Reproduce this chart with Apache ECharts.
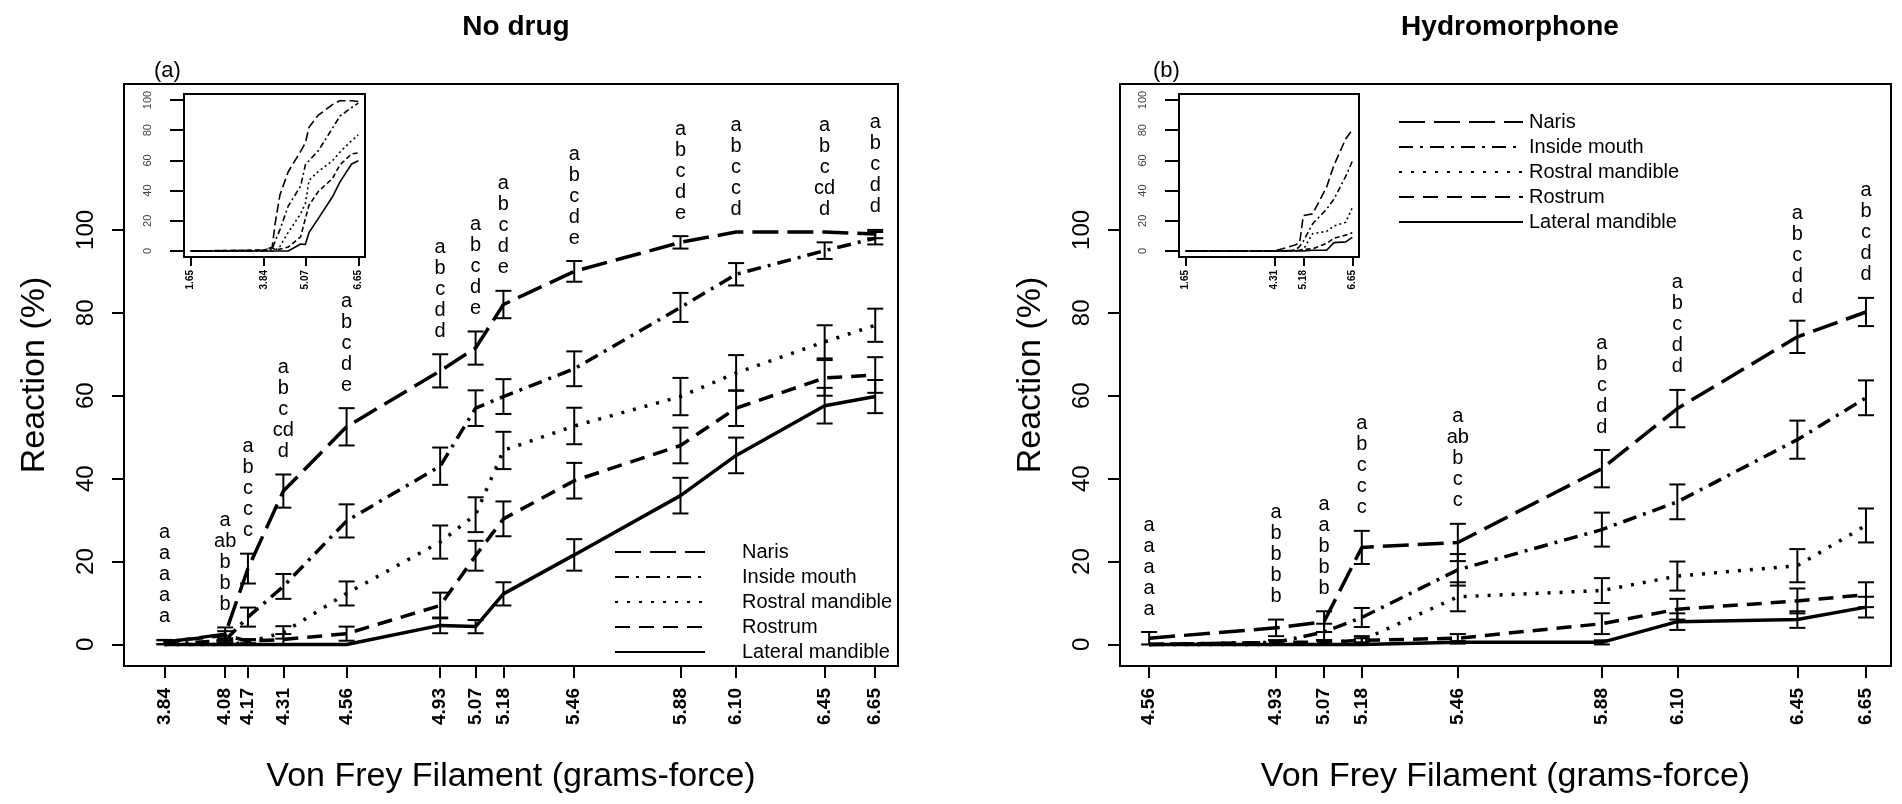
<!DOCTYPE html>
<html>
<head>
<meta charset="utf-8">
<title>Von Frey reaction</title>
<script src="https://cdn.jsdelivr.net/npm/echarts@6.0.0/dist/echarts.min.js"></script>
<style>
	html,body{margin:0;padding:0;background:#fff;}
	#chart{width:1902px;height:804px;}
</style>
</head>
<body>
<div id="chart"></div>
<script>
	//filament sizes (grams-force)
	var xNoDrug = [3.84, 4.08, 4.17, 4.31, 4.56, 4.93, 5.07, 5.18, 5.46, 5.88, 6.10, 6.45, 6.65];
	var xHydro = [4.56, 4.93, 5.07, 5.18, 5.46, 5.88, 6.10, 6.45, 6.65];
	var regions = ['Naris', 'Inside mouth', 'Rostral mandible', 'Rostrum', 'Lateral mandible'];

	//(a) no drug, mean reaction %
	var naris1 = [0.5, 2.5, 18.3, 37, 52.5, 66, 71.5, 82, 90, 97, 99.5, 99.5, 99];
	var mouth1 = [0, 1, 6.6, 14, 29.8, 43, 57, 59.8, 66.5, 81.3, 89.3, 95, 98];
	var rostral1 = [0, 0, 0.5, 2.9, 12.3, 24.7, 31.3, 46.8, 52.7, 59.8, 65.5, 73, 77];
	var rostrum1 = [0.6, 2.2, 0.8, 1.2, 2.6, 9.4, 21.4, 30.3, 39.5, 48, 57, 64.3, 65];
	var lateral1 = [0, 0, 0, 0, 0, 4.6, 4.3, 12.2, 21.6, 35.9, 45.6, 57.6, 59.8];
	//error bar half widths
	var narisErr1 = [0.5, 1.6, 3.6, 4, 4.5, 4, 4, 3.3, 2.5, 1.5, 0, 0, 1];
	var mouthErr1 = [0, 0.5, 2.3, 3, 4, 4.5, 4.3, 4.2, 4.2, 3.5, 2.7, 2, 1.5];
	var rostralErr1 = [0, 0, 0.5, 1.5, 2.9, 4, 4.2, 4.5, 4.4, 4.5, 4.3, 4, 4];
	var rostrumErr1 = [0.5, 1, 0.5, 1.3, 1.7, 3.1, 3.6, 4.2, 4.3, 4.3, 4.3, 4.3, 4.3];
	var lateralErr1 = [0, 0, 0, 0, 0, 1.9, 1.6, 2.8, 3.8, 4.3, 4.3, 4.3, 4];
	var letters1 = [
		['a','a','a','a','a'], ['a','ab','b','b','b'], ['a','b','c','c','c'], ['a','b','c','cd','d'],
		['a','b','c','d','e'], ['a','b','c','d','d'], ['a','b','c','d','e'], ['a','b','c','d','e'],
		['a','b','c','d','e'], ['a','b','c','d','e'], ['a','b','c','c','d'], ['a','b','c','cd','d'],
		['a','b','c','d','d']
	];

	//(b) hydromorphone
	var naris2 = [1.5, 4, 5.5, 23.4, 24.6, 42.4, 56.9, 74.2, 80.2];
	var mouth2 = [0, 0.5, 3, 6.5, 18, 27.7, 34.4, 49.4, 59.5];
	var rostral2 = [0, 0, 0.5, 1, 11.5, 13, 16.5, 19, 28.7];
	var rostrum2 = [0, 0.5, 0.5, 1, 1.5, 5, 8.5, 10.5, 12];
	var lateral2 = [0, 0, 0, 0, 0.5, 0.5, 5.5, 6, 9];
	var narisErr2 = [1.5, 2, 2.5, 4, 4.5, 4.5, 4.5, 3.9, 3.4];
	var mouthErr2 = [0, 0.5, 2, 2.3, 3.8, 4.1, 4.2, 4.6, 4.2];
	var rostralErr2 = [0, 0, 0.5, 1, 3.5, 3, 3.5, 4, 4.1];
	var rostrumErr2 = [0, 0.5, 0.5, 0.5, 1, 2.5, 2.5, 3, 3];
	var lateralErr2 = [0, 0, 0, 0, 0.3, 0.5, 2, 2, 2.5];
	var letters2 = [
		['a','a','a','a','a'], ['a','b','b','b','b'], ['a','a','b','b','b'], ['a','b','c','c','c'],
		['a','ab','b','c','c'], ['a','b','c','d','d'], ['a','b','c','d','d'], ['a','b','c','d','d'],
		['a','b','c','d','d']
	];

	//inset: lower filaments, all zero
	var insetLeadX1 = [1.65];
	var insetLeadX2 = [1.65, 4.31];
	var insetTicks1 = [1.65, 3.84, 5.07, 6.65];
	var insetTicks2 = [1.65, 4.31, 5.18, 6.65];
	var yTicks = [0, 20, 40, 60, 80, 100];

	var FONT = '"Liberation Sans", Arial, sans-serif';
	var dashMain = [[26, 9], [14, 7, 3, 7], [3, 9], [15, 9], 'solid'];
	var dashInset = [[9, 4], [6, 3, 2, 3], [2, 3], [5, 3], 'solid'];

	function pairs(xs, ys){
		var d = [];
		for(var i = 0; i < xs.length; i++){
			d.push([xs[i], ys[i]]);
		}
		return d;
	}
	//error bars: [x, low, high]
	function errData(xs, means, errs){
		var d = [];
		for(var r = 0; r < means.length; r++){
			for(var i = 0; i < xs.length; i++){
				if(errs[r][i] >= 0.3){
					d.push([xs[i], means[r][i] - errs[r][i], means[r][i] + errs[r][i]]);
				}
			}
		}
		return d;
	}
	//letter stacks sit over the highest bar
	function letterData(xs, means, errs){
		var d = [];
		for(var i = 0; i < xs.length; i++){
			var top = 0;
			for(var r = 0; r < means.length; r++){
				top = Math.max(top, means[r][i] + errs[r][i]);
			}
			d.push([xs[i], top, i]);
		}
		return d;
	}
	function errRender(params, api){
		var x = api.value(0);
		var p1 = api.coord([x, api.value(1)]);
		var p2 = api.coord([x, api.value(2)]);
		var cap = 8;
		var st = {stroke: '#000', lineWidth: 2};
		return {
			type: 'group',
			children: [
				{type: 'line', shape: {x1: p1[0], y1: p1[1], x2: p2[0], y2: p2[1]}, style: st},
				{type: 'line', shape: {x1: p1[0] - cap, y1: p1[1], x2: p1[0] + cap, y2: p1[1]}, style: st},
				{type: 'line', shape: {x1: p2[0] - cap, y1: p2[1], x2: p2[0] + cap, y2: p2[1]}, style: st}
			]
		};
	}
	function letterRender(letters){
		return function(params, api){
			var p = api.coord([api.value(0), api.value(1)]);
			var list = letters[api.value(2)];
			var kids = [];
			for(var k = 0; k < list.length; k++){
				kids.push({
					type: 'text',
					x: p[0],
					y: p[1] - 23 - (list.length - 1 - k) * 21,
					style: {text: list[k], fill: '#000', font: '20px ' + FONT, align: 'center', verticalAlign: 'middle'}
				});
			}
			return {type: 'group', children: kids};
		};
	}

	//main axes
	function mainX(grid, min, max, ticks){
		return {
			type: 'value', gridIndex: grid, min: min, max: max,
			splitLine: {show: false},
			axisLine: {show: false, onZero: false},
			axisTick: {show: true, length: 12, lineStyle: {color: '#000', width: 2}, customValues: ticks},
			axisLabel: {customValues: ticks, rotate: 90, margin: 22, fontSize: 19, fontWeight: 'bold', color: '#000', fontFamily: FONT,
				formatter: function(v){ return v.toFixed(2); }},
			name: 'Von Frey Filament (grams-force)', nameLocation: 'middle', nameGap: 94,
			nameTextStyle: {fontSize: 34, color: '#000', fontFamily: FONT}
		};
	}
	function mainY(grid){
		return {
			type: 'value', gridIndex: grid, min: -5.2, max: 135.2,
			splitLine: {show: false},
			axisLine: {show: false, onZero: false},
			axisTick: {show: true, length: 12, lineStyle: {color: '#000', width: 2}, customValues: yTicks},
			axisLabel: {customValues: yTicks, rotate: 90, margin: 26, fontSize: 24, color: '#000', fontFamily: FONT},
			name: 'Reaction (%)', nameLocation: 'middle', nameGap: 72, nameRotate: 90,
			nameTextStyle: {fontSize: 34, color: '#000', fontFamily: FONT}
		};
	}
	//inset axes
	function insetX(grid, ticks){
		return {
			type: 'value', gridIndex: grid, min: 1.45, max: 6.85,
			splitLine: {show: false},
			axisLine: {show: false, onZero: false},
			axisTick: {show: true, length: 9, lineStyle: {color: '#000', width: 2}, customValues: ticks},
			axisLabel: {customValues: ticks, rotate: 90, margin: 13, fontSize: 10, fontWeight: 'bold', color: '#000', fontFamily: FONT,
				formatter: function(v){ return v.toFixed(2); }}
		};
	}
	function insetY(grid){
		return {
			type: 'value', gridIndex: grid, min: -4, max: 104,
			splitLine: {show: false},
			axisLine: {show: false, onZero: false},
			axisTick: {show: true, length: 14, lineStyle: {color: '#000', width: 2}, customValues: yTicks},
			axisLabel: {customValues: yTicks, rotate: 90, margin: 31, fontSize: 11, color: '#444', fontFamily: FONT}
		};
	}

	var means1 = [naris1, mouth1, rostral1, rostrum1, lateral1];
	var errs1 = [narisErr1, mouthErr1, rostralErr1, rostrumErr1, lateralErr1];
	var means2 = [naris2, mouth2, rostral2, rostrum2, lateral2];
	var errs2 = [narisErr2, mouthErr2, rostralErr2, rostrumErr2, lateralErr2];

	var series = [];
	function addPanel(p, xs, means, errs, leadX, letters){
		for(var r = 0; r < regions.length; r++){
			series.push({
				name: regions[r], type: 'line', xAxisIndex: p, yAxisIndex: p,
				symbol: 'none', z: 3, silent: true,
				lineStyle: {color: '#000', width: 3.5, type: dashMain[r], cap: 'butt'},
				itemStyle: {color: '#000'},
				data: pairs(xs, means[r])
			});
			//same curve in the inset, starting from the lowest filament
			var lead = [];
			for(var j = 0; j < leadX.length; j++){ lead.push(0); }
			series.push({
				name: regions[r], type: 'line', xAxisIndex: p + 2, yAxisIndex: p + 2,
				symbol: 'none', z: 3, silent: true,
				lineStyle: {color: '#000', width: 1.6, type: dashInset[r], cap: 'butt'},
				itemStyle: {color: '#000'},
				data: pairs(leadX.concat(xs), lead.concat(means[r]))
			});
		}
		series.push({
			type: 'custom', xAxisIndex: p, yAxisIndex: p, z: 4, silent: true,
			renderItem: errRender, encode: {x: 0, y: [1, 2]},
			data: errData(xs, means, errs)
		});
		series.push({
			type: 'custom', xAxisIndex: p, yAxisIndex: p, z: 4, silent: true, clip: false,
			renderItem: letterRender(letters), encode: {x: 0, y: 1},
			data: letterData(xs, means, errs)
		});
	}
	addPanel(0, xNoDrug, means1, errs1, insetLeadX1, letters1);
	addPanel(1, xHydro, means2, errs2, insetLeadX2, letters2);

	var legendBase = {
		data: regions, orient: 'vertical', itemHeight: 20, itemGap: 5, selectedMode: false,
		itemStyle: {color: 'rgba(0,0,0,0)', borderWidth: 0},
		lineStyle: {color: '#000'}
	};

	var chart = echarts.init(document.getElementById('chart'));
	chart.setOption({
		animation: false,
		backgroundColor: '#fff',
		textStyle: {fontFamily: FONT},
		title: [
			{text: 'No drug', left: 511, top: 8, textAlign: 'center', textStyle: {fontSize: 28, fontWeight: 'bold', color: '#000', fontFamily: FONT}},
			{text: 'Hydromorphone', left: 1505, top: 8, textAlign: 'center', textStyle: {fontSize: 28, fontWeight: 'bold', color: '#000', fontFamily: FONT}},
			{text: '(a)', left: 149, top: 55, textStyle: {fontSize: 22, fontWeight: 'normal', color: '#000', fontFamily: FONT}},
			{text: '(b)', left: 1148, top: 55, textStyle: {fontSize: 22, fontWeight: 'normal', color: '#000', fontFamily: FONT}}
		],
		legend: [
			echarts.util.merge({left: 609, top: 537, itemWidth: 90,
				textStyle: {fontSize: 20, color: '#000', padding: [0, 0, 0, 32], fontFamily: FONT}}, legendBase),
			echarts.util.merge({left: 1393, top: 107, itemWidth: 124,
				textStyle: {fontSize: 20, color: '#000', padding: [0, 0, 0, 1], fontFamily: FONT}}, legendBase)
		],
		grid: [
			{left: 124, top: 84, width: 774, height: 582, show: true, borderColor: '#000', borderWidth: 2, outerBoundsMode: 'none'},
			{left: 1120, top: 84, width: 771, height: 582, show: true, borderColor: '#000', borderWidth: 2, outerBoundsMode: 'none'},
			{left: 184, top: 94, width: 181, height: 163, show: true, borderColor: '#000', borderWidth: 2, backgroundColor: '#fff', outerBoundsMode: 'none'},
			{left: 1179, top: 94, width: 180, height: 163, show: true, borderColor: '#000', borderWidth: 2, backgroundColor: '#fff', outerBoundsMode: 'none'}
		],
		xAxis: [
			mainX(0, 3.68, 6.74, xNoDrug),
			mainX(1, 4.475, 6.723, xHydro),
			insetX(2, insetTicks1),
			insetX(3, insetTicks2)
		],
		yAxis: [mainY(0), mainY(1), insetY(2), insetY(3)],
		series: series
	});
</script>
</body>
</html>
